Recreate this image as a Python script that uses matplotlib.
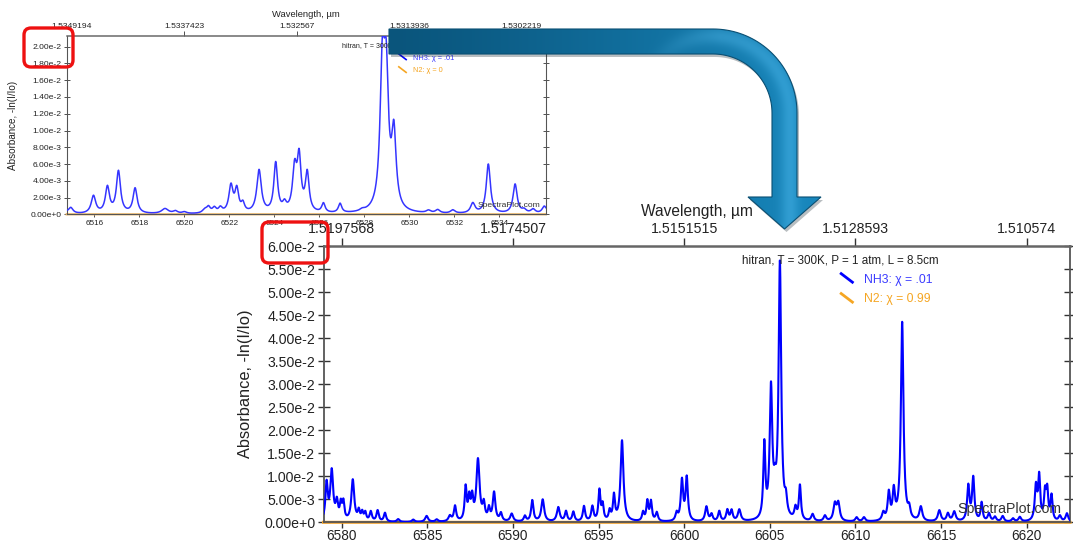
import numpy as np
import matplotlib
matplotlib.use("Agg")
import matplotlib.pyplot as plt
from matplotlib.patches import FancyBboxPatch, Polygon
from matplotlib.ticker import FuncFormatter, MultipleLocator, FixedLocator

plt.rcParams['font.family'] = ['Liberation Sans', 'DejaVu Sans']

# ---------------- data ----------------
# NH3 line list for the 6515-6536 cm^-1 window: centre, peak absorbance, half width
wide_centers = [6514.60, 6514.95, 6515.96, 6516.58, 6517.07, 6517.81, 6519.14, 6519.60,
                6520.00, 6520.90, 6521.07, 6521.33, 6521.60, 6522.07, 6522.33, 6522.60,
                6523.32, 6524.06, 6524.45, 6524.90, 6525.10, 6525.46, 6526.18, 6526.92,
                6527.90, 6528.80, 6528.97, 6529.31, 6530.85, 6531.26, 6531.93, 6532.82,
                6533.51, 6534.70, 6535.10, 6535.50, 6536.00]
wide_peaks = [0.0006, 0.0007, 0.0021, 0.0031, 0.0050, 0.0030, 0.0006, 0.0003,
              0.0002, 0.0004, 0.0007, 0.0006, 0.0006, 0.0032, 0.0027, 0.0010,
              0.0051, 0.0059, 0.0009, 0.0050, 0.0062, 0.0046, 0.0011, 0.0011,
              0.0002, 0.0160, 0.0146, 0.0088, 0.0003, 0.0004, 0.0004, 0.0012,
              0.0059, 0.0035, 0.0004, 0.0005, 0.0009]
wide_hwhm = [0.12, 0.12, 0.12, 0.11, 0.11, 0.11, 0.18, 0.12,
             0.12, 0.12, 0.10, 0.10, 0.10, 0.11, 0.10, 0.09,
             0.12, 0.10, 0.10, 0.11, 0.10, 0.10, 0.09, 0.09,
             0.12, 0.12, 0.12, 0.12, 0.12, 0.12, 0.12, 0.12,
             0.11, 0.11, 0.12, 0.12, 0.12]

# NH3 line list for the 6579-6622.5 cm^-1 window
zoom_centers = [6579.12, 6579.42, 6579.72, 6579.95, 6580.10, 6580.65, 6581.00, 6581.20,
                6581.38, 6581.70, 6582.10, 6582.53, 6583.30, 6584.18, 6584.96, 6585.55,
                6586.32, 6586.62, 6587.24, 6587.45, 6587.62, 6587.96, 6588.30, 6588.60,
                6588.90, 6589.30, 6589.93, 6590.70, 6591.13, 6591.74, 6592.65, 6593.10,
                6593.53, 6594.15, 6594.64, 6595.05, 6595.24, 6595.65, 6595.90, 6596.37,
                6597.60, 6597.85, 6598.06, 6598.40, 6599.56, 6599.87, 6600.15, 6601.30,
                6601.60, 6602.05, 6602.52, 6602.77, 6603.22, 6604.68, 6605.07, 6605.30,
                6605.59, 6605.94, 6606.50, 6606.76, 6607.50, 6608.22, 6608.80, 6609.00,
                6610.07, 6610.50, 6611.63, 6611.95, 6612.24, 6612.73, 6613.14, 6613.82,
                6614.90, 6615.40, 6615.77, 6616.59, 6616.88, 6617.37, 6617.80, 6618.15,
                6618.60, 6619.20, 6619.60, 6620.54, 6620.73, 6621.07, 6621.20, 6621.45,
                6621.94, 6622.35]
zoom_peaks = [0.0080, 0.0108, 0.0038, 0.0034, 0.0038, 0.0090, 0.0021, 0.0018,
              0.0018, 0.0021, 0.0024, 0.0019, 0.0006, 0.0005, 0.0013, 0.0005,
              0.0012, 0.0033, 0.0072, 0.0046, 0.0046, 0.0133, 0.0034, 0.0025,
              0.0062, 0.0017, 0.0017, 0.0012, 0.0046, 0.0048, 0.0031, 0.0022,
              0.0021, 0.0033, 0.0032, 0.0066, 0.0034, 0.0021, 0.0054, 0.0176,
              0.0019, 0.0043, 0.0042, 0.0019, 0.0017, 0.0088, 0.0094, 0.0032,
              0.0015, 0.0022, 0.0024, 0.0023, 0.0025, 0.0160, 0.0280, 0.0040,
              0.0555, 0.0034, 0.0025, 0.0075, 0.0015, 0.0012, 0.0036, 0.0038,
              0.0009, 0.0009, 0.0017, 0.0059, 0.0062, 0.0432, 0.0021, 0.0031,
              0.0024, 0.0017, 0.0021, 0.0076, 0.0094, 0.0040, 0.0017, 0.0010,
              0.0012, 0.0007, 0.0010, 0.0074, 0.0094, 0.0058, 0.0063, 0.0054,
              0.0012, 0.0018]
zoom_hwhm = [0.08, 0.10, 0.08, 0.07, 0.07, 0.10, 0.07, 0.07,
             0.07, 0.08, 0.08, 0.08, 0.09, 0.09, 0.10, 0.09,
             0.10, 0.08, 0.07, 0.07, 0.07, 0.11, 0.08, 0.07,
             0.09, 0.08, 0.10, 0.08, 0.08, 0.10, 0.10, 0.08,
             0.08, 0.08, 0.08, 0.07, 0.07, 0.07, 0.07, 0.10,
             0.07, 0.07, 0.07, 0.08, 0.08, 0.08, 0.08, 0.09,
             0.08, 0.08, 0.08, 0.08, 0.10, 0.07, 0.09, 0.08,
             0.09, 0.08, 0.08, 0.07, 0.09, 0.09, 0.10, 0.10,
             0.09, 0.09, 0.09, 0.08, 0.08, 0.09, 0.08, 0.10,
             0.10, 0.09, 0.10, 0.08, 0.08, 0.07, 0.09, 0.09,
             0.09, 0.09, 0.09, 0.08, 0.07, 0.07, 0.07, 0.07,
             0.09, 0.09]

wide_window = (6514.77, 6536.06)
zoom_window = (6578.94, 6622.53)
wide_ylim = (0.0, 0.02128)
zoom_ylim = (0.0, 0.0601)

wide_wn_ticks = [6516, 6518, 6520, 6522, 6524, 6526, 6528, 6530, 6532, 6534]
wide_wl_ticks = [6515, 6520, 6525, 6530, 6535]
zoom_wn_ticks = [6580, 6585, 6590, 6595, 6600, 6605, 6610, 6615, 6620]
zoom_wl_ticks = [6580, 6590, 6600, 6610, 6620]

condition_text = "hitran, T = 300K, P = 1 atm, L = 8.5cm"
nh3_label = "NH3: χ = .01"
n2_label_wide = "N2: χ = 0"
n2_label_zoom = "N2: χ = 0.99"

NH3_BLUE = '#0000ff'
N2_ORANGE = '#f2a22e'


def absorbance(nu, centers, peaks, hwhm):
    """Sum of Lorentzian line profiles, each scaled to its peak absorbance."""
    total = np.zeros_like(nu)
    for c, a, g in zip(centers, peaks, hwhm):
        total += a * g * g / ((nu - c) ** 2 + g * g)
    return total


def sci_label(v, pos=None):
    m, e = f"{v:.2e}".split('e')
    return f"{m}e{int(e):+d}"


def wavelength_label(nu):
    return f"{1e4 / nu:.7f}".rstrip('0')


def style_panel(ax, window, ylim, wn_ticks, wl_ticks, ystep, s):
    """s: scale factor for fonts/ticks (1 for the large panel)."""
    ax.set_xlim(*window)
    ax.set_ylim(*ylim)
    ax.xaxis.set_major_locator(FixedLocator(wn_ticks))
    ax.yaxis.set_major_locator(MultipleLocator(ystep))
    ax.yaxis.set_major_formatter(FuncFormatter(sci_label))
    ax.tick_params(axis='x', direction='out', length=4 * s, width=1.0 * s,
                   labelsize=9.8 * s, pad=1 * s, colors='#333333', labelcolor='#222222')
    ax.tick_params(axis='y', direction='inout', length=8 * s, width=1.0 * s,
                   labelsize=10.2 * s, pad=2 * s, right=True, colors='#333333',
                   labelcolor='#222222')
    for side, sp in ax.spines.items():
        sp.set_color('#555555')
        sp.set_linewidth(1.3 * s)
    ax.spines['top'].set_color('#666666')
    ax.spines['top'].set_linewidth(1.8 * s)

    sec = ax.secondary_xaxis('top', functions=(lambda x: x, lambda x: x))
    sec.set_xticks(wl_ticks, labels=[wavelength_label(v) for v in wl_ticks])
    sec.tick_params(axis='x', direction='out', length=6 * s, width=1.0 * s,
                    labelsize=10.2 * s, pad=1 * s, colors='#333333', labelcolor='#222222')
    sec.spines['top'].set_visible(False)
    ax.text(0.5, 1.122, "Wavelength, µm", transform=ax.transAxes, ha='center',
            va='center', fontsize=11.2 * s, color='#222222')
    ax.set_ylabel("Absorbance, -ln(I/Io)", fontsize=11.8 * s, color='#222222')
    return sec


def annotate_panel(ax, n2_text, s):
    ax.text(0.8245, 0.945, condition_text, transform=ax.transAxes, ha='right',
            va='center', fontsize=8.4 * s, color='#222222', zorder=5)
    ax.plot([0.692, 0.710], [0.902, 0.865], transform=ax.transAxes,
            color=NH3_BLUE, lw=2.0 * s, solid_capstyle='butt', zorder=5)
    ax.text(0.724, 0.875, nh3_label, transform=ax.transAxes, ha='left',
            va='center', fontsize=8.8 * s, color='#3c3cff', zorder=5)
    ax.plot([0.692, 0.710], [0.830, 0.793], transform=ax.transAxes,
            color='#f5a623', lw=2.0 * s, solid_capstyle='butt', zorder=5)
    ax.text(0.724, 0.807, n2_text, transform=ax.transAxes, ha='left',
            va='center', fontsize=8.8 * s, color='#f5a623', zorder=5)
    ax.text(0.988, 0.047, "SpectraPlot.com", transform=ax.transAxes, ha='right',
            va='center', fontsize=10.2 * s, color='#333333', zorder=5)


W, H = 1073, 543
fig = plt.figure(figsize=(W / 100, H / 100), dpi=100)
fig.patch.set_facecolor('white')


def px_axes(left, top, right, bottom):
    return fig.add_axes([left / W, 1 - bottom / H, (right - left) / W, (bottom - top) / H])


# ---------------- small (overview) panel ----------------
ax1 = px_axes(66.7, 36.0, 545.7, 214.3)
nu1 = np.linspace(*wide_window, 3000)
ax1.plot(nu1, absorbance(nu1, wide_centers, wide_peaks, wide_hwhm),
         color='#3535ff', lw=1.1, zorder=3)
ax1.plot(nu1, np.zeros_like(nu1), color='#e9b466', lw=1.6, zorder=2, clip_on=False)
s1 = 0.6
sec1 = style_panel(ax1, wide_window, wide_ylim, wide_wn_ticks, wide_wl_ticks, 0.002, s1)
ax1.tick_params(axis='x', pad=2)
ax1.yaxis.set_label_coords(-0.102, 0.5)
annotate_panel(ax1, n2_label_wide, s1)

# ---------------- large (zoomed) panel ----------------
ax2 = px_axes(323.5, 245.7, 1070.0, 522.3)
nu2 = np.linspace(*zoom_window, 6000)
ax2.plot(nu2, absorbance(nu2, zoom_centers, zoom_peaks, zoom_hwhm),
         color=NH3_BLUE, lw=1.5, zorder=3)
ax2.plot(nu2, np.zeros_like(nu2), color=N2_ORANGE, lw=2.2, zorder=2, clip_on=False)
sec2 = style_panel(ax2, zoom_window, zoom_ylim, zoom_wn_ticks, zoom_wl_ticks, 0.005, 1.0)
ax2.yaxis.set_label_coords(-0.095, 0.5)
annotate_panel(ax2, n2_label_zoom, 1.0)

# ---------------- overlay: bent arrow and highlight boxes ----------------
ov = fig.add_axes([0, 0, 1, 1], zorder=10)
ov.set_xlim(0, W)
ov.set_ylim(H, 0)
ov.set_axis_off()

cx, cy = 713.0, 113.0
R_out, R_in = 84.0, 59.0
t = np.linspace(0, np.pi / 2, 40)
outer = np.column_stack([cx + R_out * np.sin(t), cy - R_out * np.cos(t)])
inner = np.column_stack([cx + R_in * np.sin(t), cy - R_in * np.cos(t)])[::-1]
shaft_l, head_y, tip = 389.0, 197.0, (784.5, 229.0)
verts = np.vstack([
    [[shaft_l, cy - R_out]],
    outer,
    [[cx + R_out, head_y], [821.0, head_y], list(tip), [748.0, head_y],
     [cx + R_in, head_y]],
    inner,
    [[shaft_l, cy - R_in]],
])

shadow = Polygon(verts + np.array([2.0, 3.0]), closed=True, fc='#1a2a33',
                 ec='none', alpha=0.3)
ov.add_patch(shadow)
arrow = Polygon(verts, closed=True, fc='none', ec='#0a4f73', lw=0.8)
ov.add_patch(arrow)

# gradient fill in pixel space: dark teal on the left, brighter blue in the bend
ext_l, ext_r, ext_t, ext_b = shaft_l, 822.0, 28.0, 230.0
px = np.linspace(ext_l, ext_r, 300)
py = np.linspace(ext_t, ext_b, 160)
PX, PY = np.meshgrid(px, py)
c0 = np.array([0x0a, 0x55, 0x7c]) / 255
c1 = np.array([0x18, 0x88, 0xbe]) / 255
mix = np.clip((PX - ext_l) / (ext_r - ext_l), 0, 1) ** 1.2
rgb = c0 * (1 - mix[..., None]) + c1 * mix[..., None]
# distance from the bend centre gives a rounded (tube-like) highlight
radial = np.hypot(PX - cx, np.minimum(PY, cy) - cy)
tube = np.exp(-((radial - (R_in + R_out) / 2 - 6) / 9.0) ** 2)
bend = np.clip((PX - 640) / 80, 0, 1)
rgb = rgb + (0.10 * tube * bend)[..., None]
rgb = np.clip(rgb, 0, 1)
img = ov.imshow(rgb, extent=(ext_l, ext_r, ext_b, ext_t), aspect='auto',
                interpolation='bilinear', zorder=2)
img.set_clip_path(arrow)
arrow.set_zorder(3)

for (x0, y0, x1, y1) in [(24, 28, 73, 67), (262, 222, 328, 263)]:
    ov.add_patch(FancyBboxPatch((x0, y0), x1 - x0, y1 - y0,
                                boxstyle="round,pad=0,rounding_size=7",
                                fc='none', ec='#ee1111', lw=2.4, zorder=4))

fig.savefig("out.png", dpi=100, facecolor='white')
